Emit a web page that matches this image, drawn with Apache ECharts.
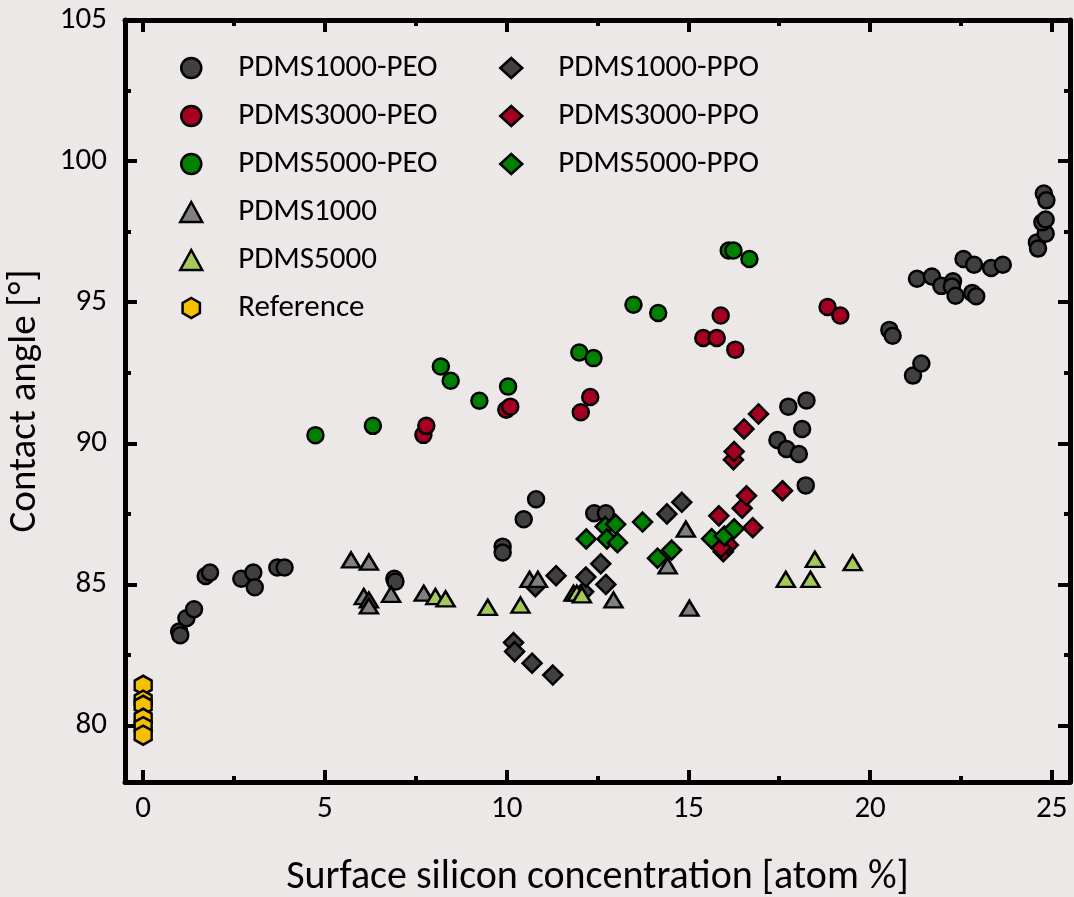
<!DOCTYPE html>
<html>
<head>
<meta charset="utf-8">
<script src="https://cdn.jsdelivr.net/npm/echarts@6/dist/echarts.min.js"></script>
<style>
  html, body { margin: 0; padding: 0; background: #ede8e8; }
  #chart { width: 1074px; height: 897px; }
</style>
</head>
<body>
<div id="chart"></div>
<script>
// data: [silicon atom %, contact angle]
var peo1000 = [[0.99,83.33],[1.02,83.2],[1.19,83.8],[1.40,84.12],[1.72,85.3],[1.84,85.42],[2.70,85.2],[3.03,85.42],[3.07,84.9],
  [3.69,85.6],[3.89,85.6],[6.91,85.2],[6.94,85.1],[9.89,86.34],[9.89,86.13],[10.47,87.31],[10.81,88.02],[12.41,87.52],[12.73,87.52],
  [17.45,90.12],[17.70,89.8],[17.75,91.3],[18.04,89.62],[18.13,90.51],[18.23,88.51],[18.25,91.52],
  [20.53,94.02],[20.62,93.81],[21.18,92.4],[21.41,92.83],[21.29,95.83],[21.70,95.91],[21.96,95.58],[22.28,95.74],[22.25,95.56],
  [22.35,95.23],[22.57,96.53],[22.86,96.33],[22.81,95.33],[22.92,95.21],[23.33,96.21],[23.65,96.33],[24.59,97.12],[24.62,96.9],
  [24.83,97.43],[24.74,97.83],[24.83,97.93],[24.78,98.85],[24.85,98.61]];
var peo3000 = [[7.71,90.3],[7.79,90.62],[9.99,91.19],[10.1,91.3],[12.04,91.1],[12.30,91.64],[15.41,93.73],[15.78,93.73],
  [15.89,94.53],[16.29,93.32],[18.83,94.83],[19.18,94.53]];
var peo5000 = [[4.74,90.29],[6.32,90.62],[8.19,92.72],[8.46,92.22],[9.25,91.51],[10.04,92.01],[12.0,93.22],[12.39,93.02],
  [13.49,94.91],[14.17,94.62],[16.11,96.83],[16.24,96.83],[16.68,96.53]];
var ppo1000 = [[10.19,82.94],[10.22,82.62],[10.70,82.21],[11.27,81.79],[10.79,84.92],[11.36,85.31],[12.12,84.74],[12.18,85.26],
  [12.59,85.73],[12.73,85.0],[14.41,87.5],[14.82,87.91]];
var ppo3000 = [[15.84,87.43],[15.96,86.16],[16.10,86.4],[15.9,86.3],[16.24,89.42],[16.26,89.71],[16.48,87.7],[16.53,90.51],
  [16.60,88.14],[16.77,87.01],[16.93,91.04],[17.59,88.32]];
var ppo5000 = [[12.19,86.61],[12.71,87.05],[12.76,86.61],[13.0,87.13],[13.05,86.48],[13.74,87.21],[14.15,85.93],[14.54,86.22],
  [15.64,86.62],[15.99,86.72],[16.26,86.97]];
var pdms1000 = [[5.72,85.87],[6.21,85.79],[6.07,84.57],[6.21,84.45],[6.21,84.24],[6.82,84.65],[7.72,84.69],[10.63,85.18],
  [10.86,85.18],[11.84,84.69],[12.94,84.45],[14.43,85.66],[14.93,86.96],[15.03,84.16]];
var pdms5000 = [[8.04,84.57],[8.32,84.49],[9.48,84.19],[10.38,84.27],[11.93,84.69],[12.07,84.63],[17.68,85.18],[18.36,85.18],
  [18.48,85.89],[19.52,85.77]];
var reference = [[0,81.43],[0,80.9],[0,80.72],[0,80.26],[0,79.96],[0,79.66]];

// ticks
var xMajor = [0, 5, 10, 15, 20, 25];
var xMinor = [2.5, 7.5, 12.5, 17.5, 22.5];
var yMajor = [80, 85, 90, 95, 100, 105];
var yMinor = [82.5, 87.5, 92.5, 97.5, 102.5];

var FONT = 'Carlito, Lato, sans-serif';
var hexagon = 'path://M0,-10L8.66,-5L8.66,5L0,10L-8.66,5L-8.66,-5Z';

var chart = echarts.init(document.getElementById('chart'));

function xAx(pos, ticks, len, main) {
  return {
    type: 'value', position: pos, min: -0.5, max: 25.5,
    axisLine: { show: main, onZero: false, lineStyle: { color: '#000', width: 5 } },
    axisTick: { inside: true, length: len, customValues: ticks, lineStyle: { color: '#000', width: 4 } },
    axisLabel: { show: main && pos === 'bottom', customValues: ticks, color: '#000', fontSize: 31, fontFamily: FONT, margin: 12 },
    splitLine: { show: false }
  };
}
function yAx(pos, ticks, len, main) {
  return {
    type: 'value', position: pos, min: 78, max: 105,
    axisLine: { show: main, onZero: false, lineStyle: { color: '#000', width: 5 } },
    axisTick: { inside: true, length: len, customValues: ticks, lineStyle: { color: '#000', width: 4 } },
    axisLabel: { show: main && pos === 'left', customValues: ticks, color: '#000', fontSize: 31, fontFamily: FONT, margin: 18 },
    splitLine: { show: false }
  };
}

var xBottom = xAx('bottom', xMajor, 12, true);
xBottom.name = 'Surface silicon concentration [atom %]';
xBottom.nameLocation = 'middle';
xBottom.nameGap = 76;
xBottom.nameTextStyle = { color: '#000', fontSize: 40, fontFamily: FONT };

var yLeft = yAx('left', yMajor, 12, true);
yLeft.name = 'Contact angle [°]';
yLeft.nameLocation = 'middle';
yLeft.nameGap = 80;
yLeft.nameTextStyle = { color: '#000', fontSize: 39, fontFamily: FONT };

function sc(name, data, symbol, size, color) {
  return {
    name: name, type: 'scatter', data: data, symbol: symbol, symbolSize: size,
    itemStyle: { color: color, borderColor: '#000', borderWidth: 2.5, opacity: 1 },
    emphasis: { disabled: true }
  };
}

var legendText = { color: '#000', fontSize: 31, fontFamily: FONT, lineHeight: 32, padding: [0, 0, 0, 31] };

option = {
  backgroundColor: '#ede8e8',
  animation: false,
  grid: { left: 125, right: 4, top: 20, bottom: 115, outerBoundsMode: 'none', containLabel: false },
  xAxis: [xBottom, xAx('bottom', xMinor, 6, false), xAx('top', xMajor, 12, true), xAx('top', xMinor, 6, false)],
  yAxis: [yLeft, yAx('left', yMinor, 6, false), yAx('right', yMajor, 12, true), yAx('right', yMinor, 6, false)],
  legend: [
    {
      orient: 'vertical', left: 179, top: 52, padding: 0, itemGap: 16, itemWidth: 22, itemHeight: 20,
      data: ['PDMS1000-PEO', 'PDMS3000-PEO', 'PDMS5000-PEO', 'PDMS1000', 'PDMS5000', 'Reference'],
      textStyle: legendText,
      itemStyle: { borderColor: '#000', borderWidth: 2.5 }
    },
    {
      orient: 'vertical', left: 499, top: 52, padding: 0, itemGap: 16, itemWidth: 22, itemHeight: 20,
      data: ['PDMS1000-PPO', 'PDMS3000-PPO', 'PDMS5000-PPO'],
      textStyle: legendText,
      itemStyle: { borderColor: '#000', borderWidth: 2.5 }
    }
  ],
  series: [
    sc('PDMS1000-PEO', peo1000, 'circle', 16, '#404040'),
    sc('PDMS3000-PEO', peo3000, 'circle', 16, '#a50021'),
    sc('PDMS5000-PEO', peo5000, 'circle', 16, '#008000'),
    sc('PDMS1000-PPO', ppo1000, 'diamond', [19, 19], '#404040'),
    sc('PDMS3000-PPO', ppo3000, 'diamond', [19, 19], '#a50021'),
    sc('PDMS5000-PPO', ppo5000, 'diamond', [19, 19], '#008000'),
    sc('PDMS1000', pdms1000, 'triangle', [18, 15], '#808080'),
    sc('PDMS5000', pdms5000, 'triangle', [18, 15], '#a6ca5a'),
    sc('Reference', reference, hexagon, [17, 19], '#f5c000')
  ]
};

chart.setOption(option);
</script>
</body>
</html>
